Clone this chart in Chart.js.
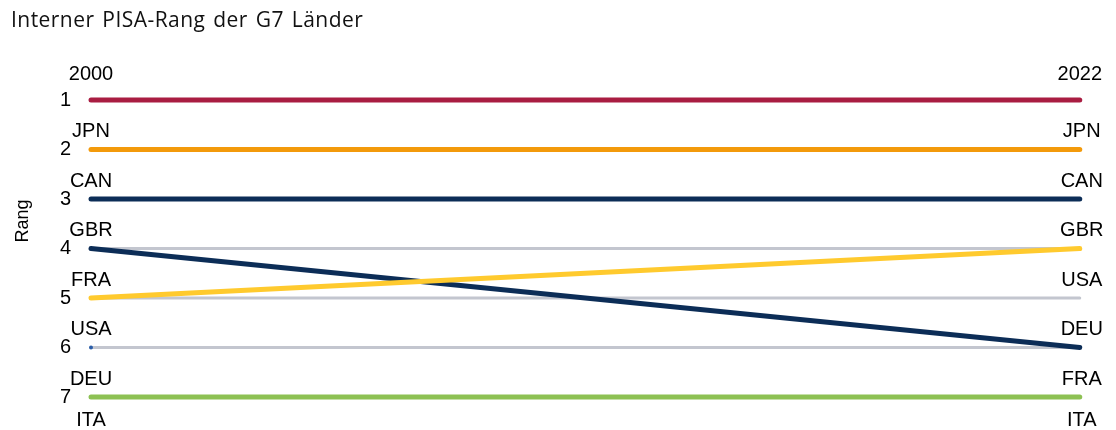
<!DOCTYPE html>
<html><head><meta charset="utf-8">
<script src="https://cdn.jsdelivr.net/npm/chart.js@4"></script>
<style>html,body{margin:0;padding:0;background:#fff}#wrap{width:1116px;height:430px}</style>
</head><body><div id="wrap"><canvas id="c" width="1116" height="430"></canvas></div>
<script>
const years = ['2000', '2022'];
const rankTicks = [1, 2, 3, 4, 5, 6, 7];
const leftLabels = ['JPN', 'CAN', 'GBR', 'FRA', 'USA', 'DEU', 'ITA'];
const rightLabels = ['JPN', 'CAN', 'GBR', 'USA', 'DEU', 'FRA', 'ITA'];
const redSeries = [1, 1];
const orangeSeries = [2, 2];
const navySeries = [3, 3];
const yellowSeries = [5, 4];
const navyDiagSeries = [4, 6];
const greenSeries = [7, 7];
const grey4 = [4, 4];
const grey5 = [5, 5];
const grey6 = [6, 6];
const dotSeries = [6, null];
const titleText = 'Interner PISA-Rang der G7 Länder';
const axisTitle = 'Rang';

function ds(data, color, w, order) {
  return {data, borderColor: color, backgroundColor: color, borderWidth: w,
    pointRadius: 0, borderCapStyle: 'round', tension: 0, order, clip: false};
}

const labelPlugin = {
  id: 'rankLabels',
  afterDatasetsDraw(chart) {
    const ctx = chart.ctx, x = chart.scales.x, y = chart.scales.y;
    ctx.save();
    ctx.font = '20px "Liberation Sans", Arial, sans-serif';
    ctx.fillStyle = '#000';
    ctx.textAlign = 'center';
    ctx.textBaseline = 'middle';
    const off = i => (i === 6 ? 0.47 : 0.64);
    leftLabels.forEach((t, i) => ctx.fillText(t, x.getPixelForValue(0), y.getPixelForValue(rankTicks[i] + off(i))));
    rightLabels.forEach((t, i) => ctx.fillText(t, x.getPixelForValue(1) + 2, y.getPixelForValue(rankTicks[i] + off(i))));
    // chart title
    ctx.textAlign = 'left';
    ctx.textBaseline = 'alphabetic';
    ctx.font = '21px "Open Sans", sans-serif';
    ctx.fillStyle = '#111';
    try { ctx.letterSpacing = '0.45px'; ctx.wordSpacing = '2px'; } catch (e) {}
    ctx.fillText(titleText, 11, 27);
    try { ctx.letterSpacing = '0px'; ctx.wordSpacing = '0px'; } catch (e) {}
    // y axis title
    ctx.translate(23, 221);
    ctx.rotate(-Math.PI / 2);
    ctx.textAlign = 'center';
    ctx.textBaseline = 'middle';
    ctx.font = '18px "Liberation Sans", Arial, sans-serif';
    ctx.fillStyle = '#000';
    ctx.fillText(axisTitle, 0, 0);
    ctx.restore();
  }
};

new Chart(document.getElementById('c'), {
  type: 'line',
  data: {
    labels: years,
    datasets: [
      {data: dotSeries, borderColor: '#2a5da8', backgroundColor: '#2a5da8', pointRadius: 2, borderWidth: 0, showLine: false, order: 0, clip: false},
      ds(redSeries, '#A91D42', 5, 1),
      ds(orangeSeries, '#F39A0B', 5, 2),
      ds(navySeries, '#0C2D57', 5, 3),
      ds(yellowSeries, '#FFCA2E', 5, 4),
      ds(navyDiagSeries, '#0C2D57', 5, 5),
      ds(greenSeries, '#8DC153', 5, 6),
      ds(grey4, '#C3C6CF', 3, 7),
      ds(grey5, '#C3C6CF', 3, 8),
      ds(grey6, '#C3C6CF', 3, 9)
    ]
  },
  options: {
    responsive: false,
    animation: false,
    layout: {padding: {left: 10, right: 34, top: 31, bottom: 33}},
    plugins: {
      legend: {display: false},
      tooltip: {enabled: false},
      title: {display: false}
    },
    scales: {
      x: {
        position: 'top', offset: false,
        grid: {display: false, drawTicks: false}, border: {display: false},
        ticks: {color: '#000', font: {family: '"Liberation Sans", Arial, sans-serif', size: 20}, padding: 14, maxRotation: 0},
        afterFit(s) { s.height = 69; }
      },
      y: {
        reverse: true, min: 1, max: 7,
        grid: {display: false, drawTicks: false}, border: {display: false},
        afterBuildTicks(s) { s.ticks = rankTicks.map(v => ({value: v})); },
        ticks: {color: '#000', font: {family: '"Liberation Sans", Arial, sans-serif', size: 20}, padding: 20},
        title: {display: false},
        afterFit(s) { s.width = 81; }
      }
    }
  },
  plugins: [labelPlugin]
});
</script>
</body></html>
